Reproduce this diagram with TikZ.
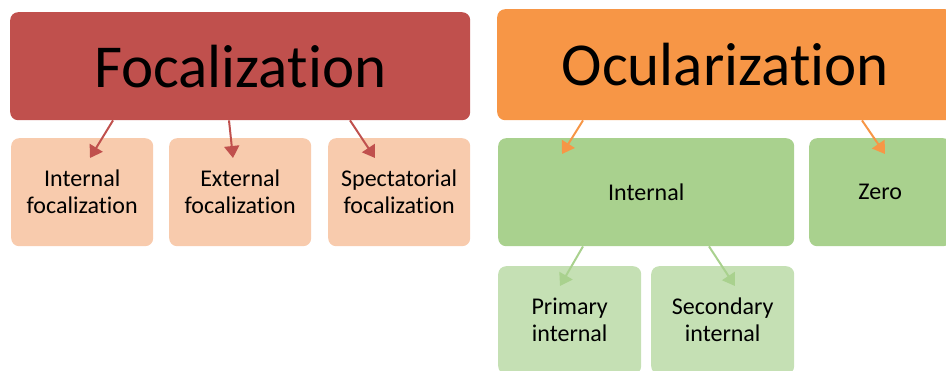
\documentclass[tikz,border=0pt]{standalone}
\usepackage{fontspec}
\setmainfont{Carlito}[Ligatures=NoCommon]
\usetikzlibrary{calc,arrows.meta}
\definecolor{focred}{HTML}{C0504D}
\definecolor{foclight}{HTML}{F8CBAD}
\definecolor{ocorange}{HTML}{F79646}
\definecolor{ocgreen}{HTML}{A9D18E}
\definecolor{oclight}{HTML}{C5E0B4}

\begin{document}
\begin{tikzpicture}[x=1pt,y=-1pt,
    box/.style={rounded corners=8pt, anchor=north west, inner sep=0pt, align=center, minimum height=108pt},
    head/.style={box, font=\fontsize{61}{72}\selectfont},
    leaf/.style={box, font=\fontsize{24}{27}\selectfont},
    link/.style={line width=2pt, -{Triangle[length=12pt,width=15pt]}}]
    \useasboundingbox (0,0) rectangle (946,370);
    \clip (0,0) rectangle (946,370);
    % focalization side
    \node[head, fill=focred, minimum width=460pt] (foc) at (10,12) {Focalization};
    \node[leaf, fill=foclight, minimum width=142pt] (intfoc) at (11,138) {Internal\\focalization};
    \node[leaf, fill=foclight, minimum width=142pt] (extfoc) at (169,138) {External\\focalization};
    \node[leaf, fill=foclight, minimum width=142pt] (specfoc) at (328,138) {Spectatorial\\focalization};
    \draw[link, focred] ($(foc.south west)+(103,0)$) -- ($(intfoc.north west)+(79,20)$);
    \draw[link, focred] ($(foc.south west)+(219,0)$) -- ($(extfoc.north west)+(64,20)$);
    \draw[link, focred] ($(foc.south west)+(340,0)$) -- ($(specfoc.north west)+(47,20)$);
    % ocularization side
    \node[head, fill=ocorange, minimum width=456pt, minimum height=111pt] (ocu) at (497,9) {Ocularization};
    \node[leaf, fill=ocgreen, minimum width=296pt] (intocu) at (498,138) {Internal};
    \node[leaf, fill=ocgreen, minimum width=142pt] (zero) at (809,138) {Zero};
    \node[leaf, fill=oclight, minimum width=143pt] (prim) at (498,266) {Primary\\internal};
    \node[leaf, fill=oclight, minimum width=143pt] (sec) at (651,266) {Secondary\\internal};
    \draw[link, ocorange] ($(ocu.south west)+(86,0)$) -- ($(intocu.north west)+(64,16)$);
    \draw[link, ocorange] ($(ocu.south west)+(365,0)$) -- ($(zero.north west)+(76,16)$);
    \draw[link, ocgreen] ($(intocu.south west)+(85,0)$) -- ($(prim.north west)+(62,20)$);
    \draw[link, ocgreen] ($(intocu.south west)+(211,0)$) -- ($(sec.north west)+(84,20)$);
\end{tikzpicture}
\end{document}
